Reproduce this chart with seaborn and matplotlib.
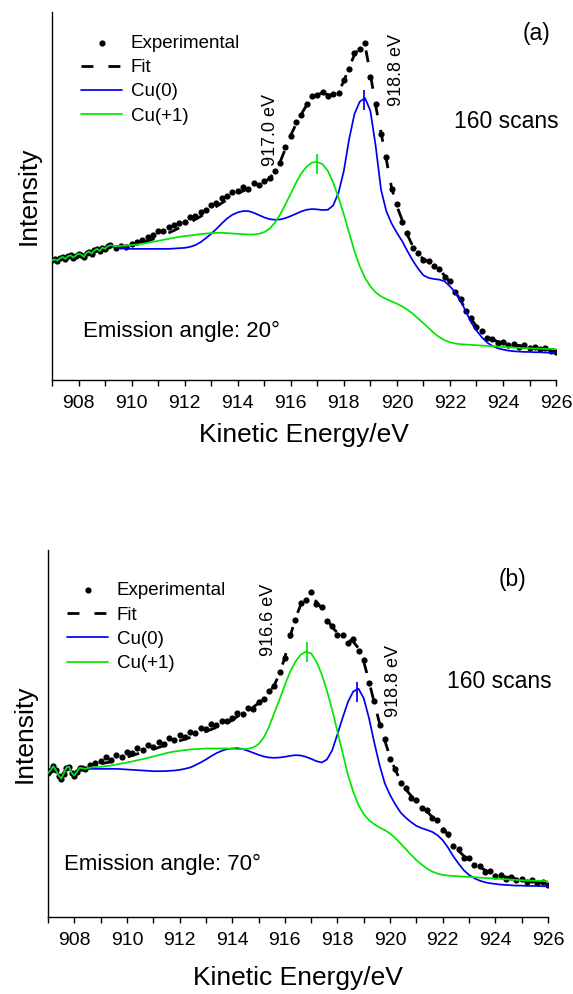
import numpy as np
import matplotlib
matplotlib.use("Agg")
import matplotlib.pyplot as plt
import seaborn as sns
from matplotlib.ticker import MultipleLocator

sns.set_style("ticks")
plt.rcParams['font.family'] = ['Liberation Sans', 'DejaVu Sans']
plt.rcParams['text.color'] = 'black'
plt.rcParams['axes.labelcolor'] = 'black'
plt.rcParams['xtick.color'] = 'black'
plt.rcParams['axes.edgecolor'] = 'black'

BLUE = '#0000F0'
GREEN = '#00E600'

# ========== (a) emission angle 20 deg ==========
# noisy start, 907.0 .. 909.2 eV every 0.1 eV
noise_a = [358, 361, 357, 364, 368, 362, 370, 373, 366, 372, 378, 375,
           368, 380, 384, 378, 388, 392, 386, 396, 392, 400, 403]
# 909.4 .. 926.0 eV every 0.2 eV
exp_a = [396, 402, 397, 408, 414, 420, 428, 434, 444, 446, 456, 462, 470, 472,
         486, 490, 503, 508, 522, 528, 545, 549, 561, 566, 577, 570, 588, 583,
         596, 604, 625, 648, 697, 728, 770, 792, 826, 848, 852, 862, 848, 855,
         858, 898, 930, 978, 990, 1008, 905, 825, 735, 668, 570, 525, 472, 438,
         396, 380, 358, 357, 340, 333, 308, 296, 262, 242, 206, 186, 157, 146,
         127, 124, 112, 114, 105, 108, 100, 104, 96, 99, 92, 96, 88, 85]
fit_a = [398, 399, 400, 403, 407, 411, 416, 421, 427, 433, 440, 447, 455, 463,
         471, 480, 489, 499, 509, 519, 529, 539, 548, 557, 565, 572, 578, 584,
         591, 603, 622, 652, 692, 732, 765, 795, 822, 843, 855, 858, 853, 850,
         862, 893, 935, 972, 995, 1000, 915, 820, 740, 660, 575, 520, 478, 433,
         400, 375, 362, 353, 344, 330, 312, 292, 265, 238, 210, 183, 160, 143,
         130, 121, 115, 111, 108, 105, 103, 101, 99, 97, 95, 93, 91, 89]
cu0_a = [397, 395, 393, 392, 392, 392, 392, 392, 392, 392, 392, 393, 394, 395,
         398, 403, 412, 424, 437, 452, 468, 483, 494, 501, 505, 505, 500, 493,
         486, 481, 479, 480, 484, 490, 497, 504, 509, 511, 510, 508, 509, 522,
         560, 625, 720, 795, 832, 843, 805, 700, 570, 505, 468, 440, 415, 385,
         357, 333, 313, 305, 302, 300, 295, 280, 262, 237, 205, 172, 148, 128,
         112, 102, 95, 91, 88, 86, 85, 84, 84, 83, 83, 82, 82, 82]
cu1_a = [400, 401, 402, 403, 405, 407, 410, 413, 416, 419, 422, 425, 428, 430,
         432, 434, 436, 438, 439, 440, 440, 439, 438, 437, 436, 435, 435, 437,
         442, 452, 470, 495, 525, 557, 590, 618, 638, 650, 652, 645, 625, 590,
         545, 495, 440, 385, 340, 305, 280, 262, 250, 242, 235, 228, 220, 210,
         198, 184, 170, 155, 140, 128, 119, 113, 109, 107, 106, 105, 104, 103,
         102, 101, 100, 99, 98, 97, 96, 95, 95, 94, 94, 93, 93, 92]
peak_cu1_a, peak_cu0_a = 917.0, 918.75

# ========== (b) emission angle 70 deg ==========
# noisy start, 907.0 .. 908.4 eV every 0.1 eV
noise_b = [432, 440, 452, 440, 424, 415, 430, 448, 450, 432, 424, 435, 447, 446, 444]
# 908.6 .. 926.0 eV every 0.2 eV
exp_b = [455, 462, 468, 478, 470, 486, 480, 495, 490, 506, 500, 516, 510, 524,
         518, 535, 530, 545, 540, 555, 552, 566, 562, 578, 574, 586, 588, 596,
         612, 608, 626, 622, 645, 652, 678, 692, 735, 775, 845, 890, 940, 950,
         975, 938, 930, 888, 872, 846, 845, 822, 832, 798, 770, 700, 648, 575,
         532, 472, 445, 402, 388, 358, 352, 327, 320, 296, 290, 262, 250, 214,
         203, 178, 176, 156, 152, 136, 137, 122, 126, 115, 120, 110, 114, 105,
         110, 101, 106, 97]
fit_b = [452, 456, 459, 462, 465, 469, 474, 479, 484, 489, 494, 499, 503, 508,
         513, 518, 523, 528, 533, 538, 544, 550, 556, 562, 568, 574, 581, 590,
         601, 611, 620, 629, 641, 656, 672, 695, 730, 778, 840, 895, 935, 955,
         958, 945, 925, 895, 868, 852, 840, 830, 825, 805, 765, 705, 642, 580,
         528, 478, 440, 408, 382, 363, 347, 332, 316, 300, 285, 268, 245, 218,
         198, 183, 172, 161, 150, 141, 133, 127, 123, 120, 117, 114, 111, 109,
         107, 105, 103, 100]
cu0_b = [444, 444, 444, 444, 444, 444, 443, 442, 441, 440, 439, 438, 437, 437,
         437, 438, 439, 441, 444, 448, 455, 463, 472, 482, 491, 498, 503, 505,
         506, 503, 498, 492, 486, 481, 478, 477, 478, 480, 483, 485, 484, 480,
         474, 467, 463, 472, 500, 548, 598, 645, 676, 684, 655, 595, 522, 455,
         400, 365, 337, 313, 297, 284, 273, 266, 261, 255, 245, 230, 208, 182,
         160, 140, 126, 116, 109, 104, 101, 99, 97, 96, 95, 94, 94, 93,
         93, 93, 92, 92]
cu1_b = [448, 449, 450, 452, 454, 457, 460, 463, 466, 470, 473, 477, 481, 485,
         489, 493, 496, 498, 500, 502, 503, 504, 505, 505, 505, 505, 505, 504,
         503, 503, 504, 508, 518, 538, 570, 612, 652, 695, 735, 765, 786, 795,
         790, 765, 728, 678, 620, 555, 490, 425, 375, 335, 308, 290, 278, 268,
         260, 250, 236, 220, 203, 186, 170, 157, 145, 136, 130, 126, 124, 123,
         122, 121, 120, 119, 118, 117, 116, 115, 114, 113, 112, 111, 110, 109,
         109, 108, 108, 107]
peak_cu1_b, peak_cu0_b = 916.86, 918.74


def grid(start, n, step):
    return np.round(start + step * np.arange(n), 2)


def draw_panel(ax, noise, exp, fit, cu0, cu1, noise_start, grid_start, marks, xpad):
    nx = grid(noise_start, len(noise), 0.1)
    gx = grid(grid_start, len(exp), 0.2)
    assert len(exp) == len(fit) == len(cu0) == len(cu1)
    lx = np.concatenate([nx, gx])

    sns.lineplot(x=lx, y=np.array(noise + fit), ax=ax, color='black', lw=2.0,
                 linestyle=(0, (4.3, 5.4)), estimator=None, label='Fit')
    sns.scatterplot(x=lx, y=np.array(noise + exp), ax=ax, color='black', s=20,
                    linewidth=0, label='Experimental', zorder=3)
    sns.lineplot(x=lx, y=np.array(noise + cu0), ax=ax, color=BLUE, lw=1.25,
                 estimator=None, label='Cu(0)', zorder=4)
    sns.lineplot(x=lx, y=np.array(noise + cu1), ax=ax, color=GREEN, lw=1.25,
                 estimator=None, label='Cu(+1)', zorder=5)

    # short ticks at the fitted peak positions
    (p1, lo1, hi1), (p0, lo0, hi0) = marks
    ax.vlines(p1, lo1, hi1, color=GREEN, lw=1.25, zorder=6)
    ax.vlines(p0, lo0, hi0, color=BLUE, lw=1.25, zorder=6)

    ax.set_xlim(907, 926)
    ax.set_ylim(0, 1100)
    ax.set_yticks([])
    ax.xaxis.set_major_locator(MultipleLocator(2))
    ax.xaxis.set_minor_locator(MultipleLocator(1))
    ax.tick_params(axis='x', which='major', direction='out', length=4.5, width=1,
                   labelsize=14, pad=6.5)
    ax.tick_params(axis='x', which='minor', direction='out', length=4, width=1)
    for s in ['top', 'right']:
        ax.spines[s].set_visible(False)
    for s in ['left', 'bottom']:
        ax.spines[s].set_linewidth(1.0)
    ax.set_xlabel('Kinetic Energy/eV', fontsize=19, labelpad=xpad)
    ax.set_ylabel('Intensity', fontsize=19, labelpad=8)

    h, l = ax.get_legend_handles_labels()
    d = dict(zip(l, h))
    order = ['Experimental', 'Fit', 'Cu(0)', 'Cu(+1)']
    return [d[k] for k in order], order


fig = plt.figure(figsize=(5.73, 9.94), dpi=100)
ax1 = fig.add_axes([0.0908, 0.6177, 0.8796, 0.3702])
ax2 = fig.add_axes([0.0838, 0.0775, 0.8726, 0.3692])

h, l = draw_panel(ax1, noise_a, exp_a, fit_a, cu0_a, cu1_a, 907.0, 909.4,
                  [(peak_cu1_a, 617, 675), (peak_cu0_a, 807, 867)], 8)
ax1.legend(h, l, loc='upper left', bbox_to_anchor=(0.0575, 0.938), frameon=False,
           borderpad=0, borderaxespad=0, handlelength=2.2, handletextpad=0.45,
           labelspacing=0.38, fontsize=13.5, scatterpoints=1)
ax1.text(0.962, 0.943, '(a)', transform=ax1.transAxes, ha='center', va='center', fontsize=16.5)
ax1.text(1.006, 0.703, '160 scans', transform=ax1.transAxes, ha='right', va='center', fontsize=16.5)
ax1.text(0.0615, 0.132, 'Emission angle: 20°', transform=ax1.transAxes, ha='left',
         va='center', fontsize=16)
ax1.text(915.22, 747, '917.0 eV', rotation=90, ha='center', va='center', fontsize=13)
ax1.text(919.97, 927, '918.8 eV', rotation=90, ha='center', va='center', fontsize=13)

h, l = draw_panel(ax2, noise_b, exp_b, fit_b, cu0_b, cu1_b, 907.0, 908.6,
                  [(peak_cu1_b, 765, 825), (peak_cu0_b, 645, 705)], 12)
ax2.legend(h, l, loc='upper left', bbox_to_anchor=(0.038, 0.912), frameon=False,
           borderpad=0, borderaxespad=0, handlelength=2.2, handletextpad=0.45,
           labelspacing=0.38, fontsize=13.5, scatterpoints=1)
ax2.text(0.928, 0.92, '(b)', transform=ax2.transAxes, ha='center', va='center', fontsize=16.5)
ax2.text(1.008, 0.642, '160 scans', transform=ax2.transAxes, ha='right', va='center', fontsize=16.5)
ax2.text(0.032, 0.143, 'Emission angle: 70°', transform=ax2.transAxes, ha='left',
         va='center', fontsize=16)
ax2.text(915.36, 890, '916.6 eV', rotation=90, ha='center', va='center', fontsize=13)
ax2.text(920.11, 707, '918.8 eV', rotation=90, ha='center', va='center', fontsize=13)

fig.savefig('out.png', dpi=100)
